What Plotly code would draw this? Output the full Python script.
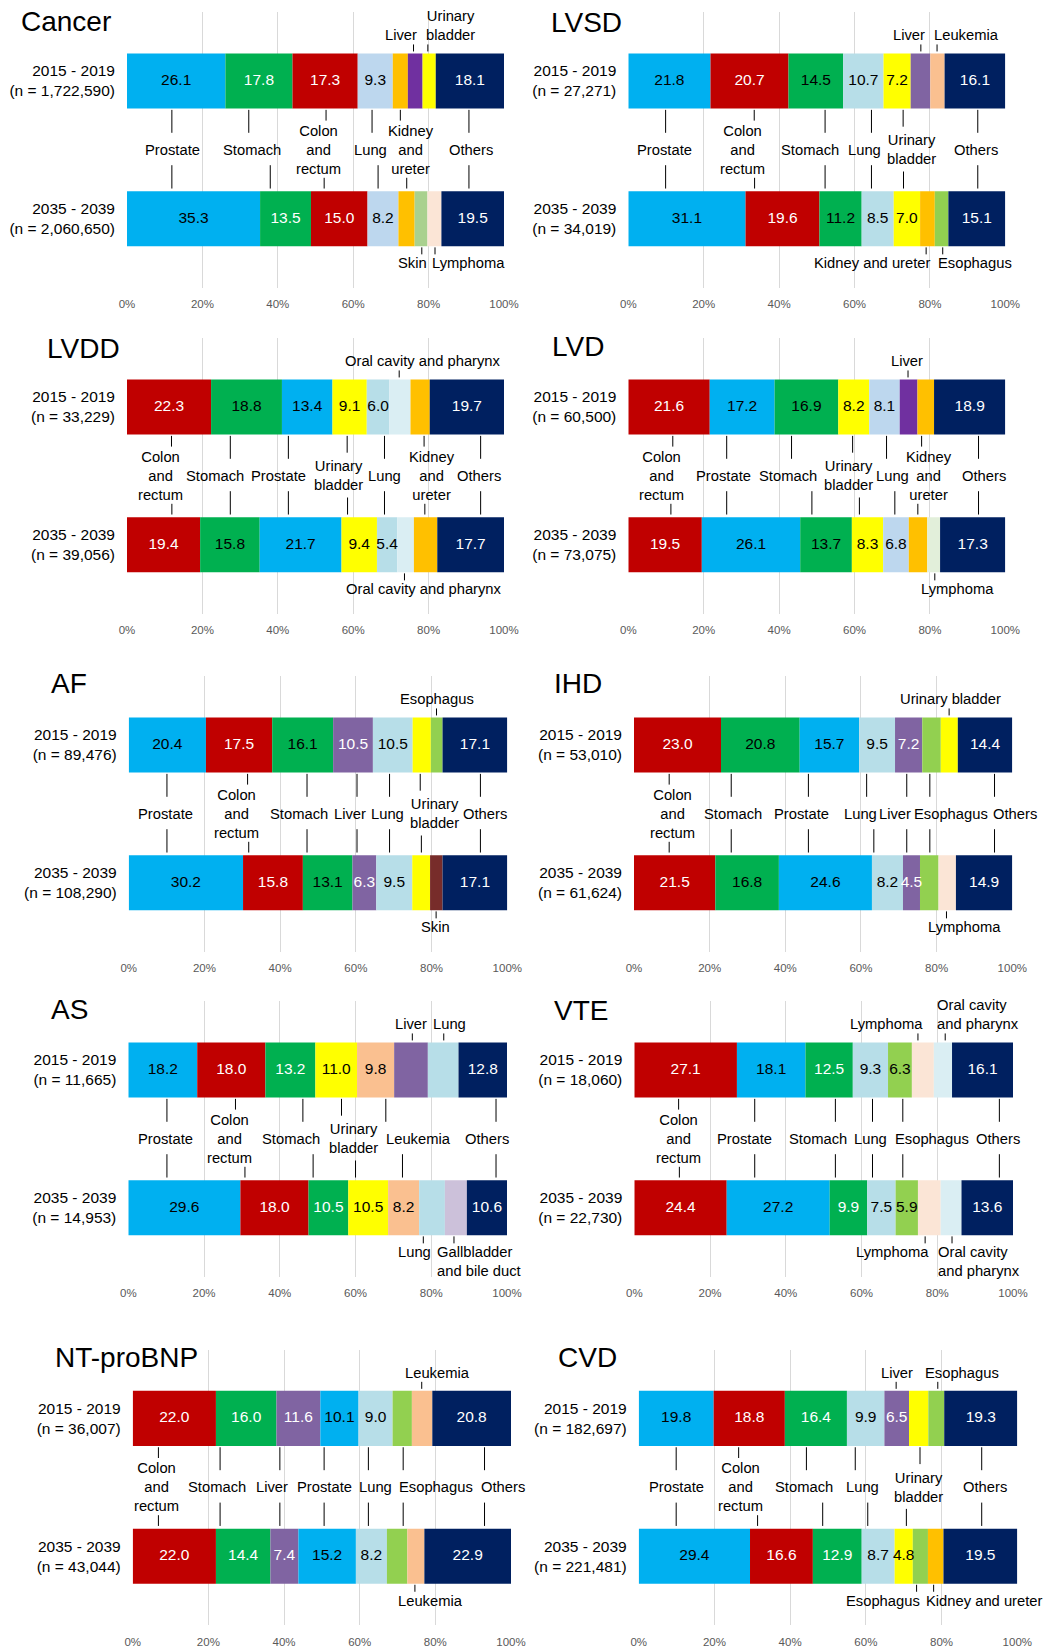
import plotly.graph_objects as go

W, H = 1047, 1648
FONT = "Liberation Sans, Arial, sans-serif"

PERIODS = ["2015 - 2019", "2035 - 2039"]
TICK_VALUES = [0, 20, 40, 60, 80, 100]
TICK_LABELS = ["0%", "20%", "40%", "60%", "80%", "100%"]

# ----------------------------- data -----------------------------
CANCER_N = ["1,722,590", "2,060,650"]
CANCER_CATS_2015 = ["Prostate", "Stomach", "Colon and rectum", "Lung", "Kidney and ureter", "Liver", "Urinary bladder", "Others"]
CANCER_VALS_2015 = [26.1, 17.8, 17.3, 9.3, 4.0, 3.9, 3.5, 18.1]
CANCER_CATS_2035 = ["Prostate", "Stomach", "Colon and rectum", "Lung", "Kidney and ureter", "Skin", "Lymphoma", "Others"]
CANCER_VALS_2035 = [35.3, 13.5, 15.0, 8.2, 4.3, 3.4, 3.7, 19.5]

LVSD_N = ["27,271", "34,019"]
LVSD_CATS_2015 = ["Prostate", "Colon and rectum", "Stomach", "Lung", "Urinary bladder", "Liver", "Leukemia", "Others"]
LVSD_VALS_2015 = [21.8, 20.7, 14.5, 10.7, 7.2, 5.2, 3.8, 16.1]
LVSD_CATS_2035 = ["Prostate", "Colon and rectum", "Stomach", "Lung", "Urinary bladder", "Kidney and ureter", "Esophagus", "Others"]
LVSD_VALS_2035 = [31.1, 19.6, 11.2, 8.5, 7.0, 3.9, 3.6, 15.1]

LVDD_N = ["33,229", "39,056"]
LVDD_CATS_2015 = ["Colon and rectum", "Stomach", "Prostate", "Urinary bladder", "Lung", "Oral cavity and pharynx", "Kidney and ureter", "Others"]
LVDD_VALS_2015 = [22.3, 18.8, 13.4, 9.1, 6.0, 5.6, 5.1, 19.7]
LVDD_CATS_2035 = ["Colon and rectum", "Stomach", "Prostate", "Urinary bladder", "Lung", "Oral cavity and pharynx", "Kidney and ureter", "Others"]
LVDD_VALS_2035 = [19.4, 15.8, 21.7, 9.4, 5.4, 4.4, 6.2, 17.7]

LVD_N = ["60,500", "73,075"]
LVD_CATS_2015 = ["Colon and rectum", "Prostate", "Stomach", "Urinary bladder", "Lung", "Liver", "Kidney and ureter", "Others"]
LVD_VALS_2015 = [21.6, 17.2, 16.9, 8.2, 8.1, 4.7, 4.4, 18.9]
LVD_CATS_2035 = ["Colon and rectum", "Prostate", "Stomach", "Urinary bladder", "Lung", "Kidney and ureter", "Lymphoma", "Others"]
LVD_VALS_2035 = [19.5, 26.1, 13.7, 8.3, 6.8, 4.9, 3.4, 17.3]

AF_N = ["89,476", "108,290"]
AF_CATS_2015 = ["Prostate", "Colon and rectum", "Stomach", "Liver", "Lung", "Urinary bladder", "Esophagus", "Others"]
AF_VALS_2015 = [20.4, 17.5, 16.1, 10.5, 10.5, 4.8, 3.1, 17.1]
AF_CATS_2035 = ["Prostate", "Colon and rectum", "Stomach", "Liver", "Lung", "Urinary bladder", "Skin", "Others"]
AF_VALS_2035 = [30.2, 15.8, 13.1, 6.3, 9.5, 4.7, 3.3, 17.1]

IHD_N = ["53,010", "61,624"]
IHD_CATS_2015 = ["Colon and rectum", "Stomach", "Prostate", "Lung", "Liver", "Esophagus", "Urinary bladder", "Others"]
IHD_VALS_2015 = [23.0, 20.8, 15.7, 9.5, 7.2, 4.9, 4.5, 14.4]
IHD_CATS_2035 = ["Colon and rectum", "Stomach", "Prostate", "Lung", "Liver", "Esophagus", "Lymphoma", "Others"]
IHD_VALS_2035 = [21.5, 16.8, 24.6, 8.2, 4.5, 4.9, 4.6, 14.9]

AS_N = ["11,665", "14,953"]
AS_CATS_2015 = ["Prostate", "Colon and rectum", "Stomach", "Urinary bladder", "Leukemia", "Liver", "Lung", "Others"]
AS_VALS_2015 = [18.2, 18.0, 13.2, 11.0, 9.8, 8.9, 8.1, 12.8]
AS_CATS_2035 = ["Prostate", "Colon and rectum", "Stomach", "Urinary bladder", "Leukemia", "Lung", "Gallbladder and bile duct", "Others"]
AS_VALS_2035 = [29.6, 18.0, 10.5, 10.5, 8.2, 6.8, 5.8, 10.6]

VTE_N = ["18,060", "22,730"]
VTE_CATS_2015 = ["Colon and rectum", "Prostate", "Stomach", "Lung", "Esophagus", "Lymphoma", "Oral cavity and pharynx", "Others"]
VTE_VALS_2015 = [27.1, 18.1, 12.5, 9.3, 6.3, 5.8, 4.8, 16.1]
VTE_CATS_2035 = ["Colon and rectum", "Prostate", "Stomach", "Lung", "Esophagus", "Lymphoma", "Oral cavity and pharynx", "Others"]
VTE_VALS_2035 = [24.4, 27.2, 9.9, 7.5, 5.9, 6.0, 5.5, 13.6]

NTPROBNP_N = ["36,007", "43,044"]
NTPROBNP_CATS_2015 = ["Colon and rectum", "Stomach", "Liver", "Prostate", "Lung", "Esophagus", "Leukemia", "Others"]
NTPROBNP_VALS_2015 = [22.0, 16.0, 11.6, 10.1, 9.0, 5.1, 5.4, 20.8]
NTPROBNP_CATS_2035 = ["Colon and rectum", "Stomach", "Liver", "Prostate", "Lung", "Esophagus", "Leukemia", "Others"]
NTPROBNP_VALS_2035 = [22.0, 14.4, 7.4, 15.2, 8.2, 5.4, 4.5, 22.9]

CVD_N = ["182,697", "221,481"]
CVD_CATS_2015 = ["Prostate", "Colon and rectum", "Stomach", "Lung", "Liver", "Urinary bladder", "Esophagus", "Others"]
CVD_VALS_2015 = [19.8, 18.8, 16.4, 9.9, 6.5, 5.1, 4.2, 19.3]
CVD_CATS_2035 = ["Prostate", "Colon and rectum", "Stomach", "Lung", "Urinary bladder", "Esophagus", "Kidney and ureter", "Others"]
CVD_VALS_2035 = [29.4, 16.6, 12.9, 8.7, 4.8, 4.0, 4.1, 19.5]

# ----------------------------- styles -----------------------------
COLORS = {
    "Prostate": "#00b0f0", "Stomach": "#00b050", "Colon and rectum": "#c00000",
    "Lung": "#b7dee8", "Kidney and ureter": "#ffc000", "Liver": "#8064a2",
    "Urinary bladder": "#ffff00", "Others": "#002060", "Skin": "#a9d18e",
    "Lymphoma": "#fbe5d6", "Esophagus": "#92d050", "Leukemia": "#fac090",
    "Oral cavity and pharynx": "#daeef3", "Gallbladder and bile duct": "#ccc1da",
}
WHITE_TEXT = {"Colon and rectum", "Others", "Liver", "Skin"}

# label layout: mid = (text, label x, top connector x, bottom connector x)
#               top/bot = (text, label x, connector x, align)
PANELS = [
    dict(title="Cancer", n=CANCER_N, data=[(CANCER_CATS_2015, CANCER_VALS_2015), (CANCER_CATS_2035, CANCER_VALS_2035)],
         nlab=4, stomach_text="white", override={"Lung": "#bdd7ee", "Liver": "#7030a0"},
         box=(127, 504, 0), title_pos=(19, 21.5),
         mid=[("Prostate", 12.1, 11.9, 11.9), ("Stomach", 33.1, 32.3, 38.0), ("Colon<br>and<br>rectum", 50.8, 52.8, 52.3),
              ("Lung", 64.5, 65.0, 66.6), ("Kidney<br>and<br>ureter", 75.2, 72.5, 74.2), ("Others", 91.3, 90.7, 90.7)],
         top=[("Liver", 72.7, 76.0, "center"), ("Urinary<br>bladder", 85.7, 79.8, "center")],
         bot=[("Skin", 75.6, 78.2, "center"), ("Lymphoma", 90.5, 81.7, "center")]),
    dict(title="LVSD", n=LVSD_N, data=[(LVSD_CATS_2015, LVSD_VALS_2015), (LVSD_CATS_2035, LVSD_VALS_2035)],
         nlab=5, stomach_text="black", override={},
         box=(628.3, 1005.3, 0), title_pos=(549, 22.2),
         mid=[("Prostate", 9.5, 9.9, 9.9), ("Colon<br>and<br>rectum", 30.2, 33.4, 33.5), ("Stomach", 48.2, 52.2, 52.2),
              ("Lung", 62.7, 64.5, 64.5), ("Urinary<br>bladder", 75.2, 72.9, 73.0), ("Others", 92.3, 92.7, 92.7)],
         top=[("Liver", 74.4, 77.6, "center"), ("Leukemia", 89.7, 81.9, "center")],
         bot=[("Kidney and ureter", 64.7, 79.0, "center"), ("Esophagus", 92.0, 83.4, "center")]),
    dict(title="LVDD", n=LVDD_N, data=[(LVDD_CATS_2015, LVDD_VALS_2015), (LVDD_CATS_2035, LVDD_VALS_2035)],
         nlab=5, stomach_text="black", override={},
         box=(127, 504, 1), title_pos=(45, 348.2),
         mid=[("Colon<br>and<br>rectum", 8.9, 11.8, 11.9), ("Stomach", 23.3, 27.4, 27.4), ("Prostate", 40.1, 42.8, 42.8),
              ("Urinary<br>bladder", 56.1, 58.4, 58.5), ("Lung", 68.2, 68.3, 68.3), ("Kidney<br>and<br>ureter", 80.9, 78.8, 79.0),
              ("Others", 93.5, 93.8, 93.8)],
         top=[("Oral cavity and pharynx", 78.6, 72.2, "center")],
         bot=[("Oral cavity and pharynx", 78.9, 73.6, "center")]),
    dict(title="LVD", n=LVD_N, data=[(LVD_CATS_2015, LVD_VALS_2015), (LVD_CATS_2035, LVD_VALS_2035)],
         nlab=5, stomach_text="black", override={"Lung": "#bdd7ee", "Liver": "#7030a0", "Lymphoma": "#e2efda"},
         box=(628.3, 1005.3, 1), title_pos=(549.7, 346.8),
         mid=[("Colon<br>and<br>rectum", 8.7, 11.8, 11.3), ("Prostate", 25.3, 26.1, 26.1), ("Stomach", 42.4, 43.3, 48.7),
              ("Urinary<br>bladder", 58.4, 59.5, 61.3), ("Lung", 70.2, 68.5, 70.7), ("Kidney<br>and<br>ureter", 79.8, 77.8, 76.8),
              ("Others", 94.3, 92.9, 92.9)],
         top=[("Liver", 74.0, 74.2, "center")],
         bot=[("Lymphoma", 87.2, 81.3, "center")]),
    dict(title="AF", n=AF_N, data=[(AF_CATS_2015, AF_VALS_2015), (AF_CATS_2035, AF_VALS_2035)],
         nlab=5, stomach_text="black", override={"Skin": "#772c2a"},
         box=(128.7, 507.3, 2), title_pos=(48.7, 683.7),
         mid=[("Prostate", 9.6, 10.1, 10.1), ("Colon<br>and<br>rectum", 28.5, 31.4, 31.7), ("Stomach", 45.1, 47.1, 47.1),
              ("Liver", 58.5, 60.3, 60.3), ("Lung", 68.4, 68.9, 68.9), ("Urinary<br>bladder", 80.7, 77.0, 77.3),
              ("Others", 94.1, 92.9, 92.9)],
         top=[("Esophagus", 81.3, 81.3, "center")],
         bot=[("Skin", 81.0, 81.2, "center")]),
    dict(title="IHD", n=IHD_N, data=[(IHD_CATS_2015, IHD_VALS_2015), (IHD_CATS_2035, IHD_VALS_2035)],
         nlab=5, stomach_text="black", override={},
         box=(634, 1012.3, 2), title_pos=(552.3, 683.7),
         mid=[("Colon<br>and<br>rectum", 10.3, 9.3, 9.3), ("Stomach", 26.2, 25.7, 25.7), ("Prostate", 44.2, 46.1, 46.1),
              ("Lung", 59.8, 61.5, 63.4), ("Liver", 69.1, 72.1, 72.1), ("Esophagus", 83.8, 78.2, 78.2),
              ("Others", 100.8, 95.3, 95.3)],
         top=[("Urinary bladder", 83.6, 83.3, "center")],
         bot=[("Lymphoma", 87.4, 82.6, "center")]),
    dict(title="AS", n=AS_N, data=[(AS_CATS_2015, AS_VALS_2015), (AS_CATS_2035, AS_VALS_2035)],
         nlab=5, stomach_text="white", override={},
         box=(128.3, 507, 3), title_pos=(48.7, 1009.5),
         mid=[("Prostate", 9.7, 10.2, 10.2), ("Colon<br>and<br>rectum", 26.8, 28.3, 30.8), ("Stomach", 42.9, 46.1, 48.8),
              ("Urinary<br>bladder", 59.4, 56.3, 60.0), ("Leukemia", 76.7, 68.0, 72.4), ("Others", 94.7, 97.1, 97.1)],
         top=[("Liver", 74.6, 75.0, "center"), ("Lung", 84.8, 83.3, "center")],
         bot=[("Lung", 75.6, 77.9, "center"), ("Gallbladder<br>and bile duct", 92.5, 86.0, "left")]),
    dict(title="VTE", n=VTE_N, data=[(VTE_CATS_2015, VTE_VALS_2015), (VTE_CATS_2035, VTE_VALS_2035)],
         nlab=5, stomach_text="white", override={},
         box=(634.3, 1013, 3), title_pos=(552.3, 1010),
         mid=[("Colon<br>and<br>rectum", 11.7, 11.7, 11.9), ("Prostate", 29.0, 31.8, 31.8), ("Stomach", 48.4, 53.1, 53.1),
              ("Lung", 62.4, 62.9, 62.9), ("Esophagus", 78.5, 70.9, 70.9), ("Others", 96.0, 96.4, 96.4)],
         top=[("Lymphoma", 66.5, 74.9, "center"), ("Oral cavity<br>and pharynx", 90.8, 82.1, "left")],
         bot=[("Lymphoma", 68.2, 76.8, "center"), ("Oral cavity<br>and pharynx", 91.1, 83.9, "left")]),
    dict(title="NT-proBNP", n=NTPROBNP_N, data=[(NTPROBNP_CATS_2015, NTPROBNP_VALS_2015), (NTPROBNP_CATS_2035, NTPROBNP_VALS_2035)],
         nlab=5, stomach_text="white", override={},
         box=(132.7, 511, 4), title_pos=(53, 1357.7),
         mid=[("Colon<br>and<br>rectum", 6.3, 6.8, 6.8), ("Stomach", 22.2, 23.1, 23.1), ("Liver", 36.7, 38.9, 38.9),
              ("Prostate", 50.7, 50.6, 50.6), ("Lung", 64.1, 62.3, 62.3), ("Esophagus", 80.1, 71.5, 71.5),
              ("Others", 98.0, 93.0, 93.0)],
         top=[("Leukemia", 80.5, 76.4, "center")],
         bot=[("Leukemia", 78.6, 74.6, "center")]),
    dict(title="CVD", n=CVD_N, data=[(CVD_CATS_2015, CVD_VALS_2015), (CVD_CATS_2035, CVD_VALS_2035)],
         nlab=5, stomach_text="white", override={},
         box=(638.7, 1017.3, 4), title_pos=(556, 1357.7),
         mid=[("Prostate", 10.1, 9.9, 9.9), ("Colon<br>and<br>rectum", 26.8, 26.4, 31.4), ("Stomach", 43.6, 44.3, 48.6),
              ("Lung", 59.2, 57.2, 60.5), ("Urinary<br>bladder", 73.8, 74.3, 70.7), ("Others", 91.4, 90.6, 90.6)],
         top=[("Liver", 68.2, 68.0, "center"), ("Esophagus", 85.3, 79.0, "center")],
         bot=[("Esophagus", 64.6, 73.4, "center"), ("Kidney and ureter", 91.3, 77.9, "center")]),
]

# ----------------------------- geometry -----------------------------
ROW_TOPS = [12.1, 338.1, 676.1, 1001.1, 1349.5]   # px, top of each plot area
PX = 137.8                                          # px per y-unit
PLOT_H = 2 * PX
BAR_W = 0.4
LABEL_FS = 14.75
LH = 1.3 * LABEL_FS

fig = go.Figure()
annotations = []
shapes = []
layout_axes = {}

for i, p in enumerate(PANELS):
    k = "" if i == 0 else str(i + 1)
    xa, ya = "x" + k, "y" + k
    x0, x1, row = p["box"]
    top = ROW_TOPS[row]
    px_per_pct = (x1 - x0) / 100.0
    colors = dict(COLORS, **p["override"])

    def text_color(c):
        if c == "Stomach":
            return p["stomach_text"]
        return "white" if c in WHITE_TEXT else "black"

    for (cats, vals), yv in zip(p["data"], [1, 0]):
        bases, acc = [], 0.0
        for v in vals:
            bases.append(acc)
            acc += v
        fig.add_trace(go.Bar(
            orientation="h", y=[yv] * len(vals), x=vals, base=bases, width=BAR_W,
            marker=dict(color=[colors[c] for c in cats], line=dict(width=0)),
            xaxis=xa, yaxis=ya, hoverinfo="skip", showlegend=False))
        idx = list(range(p["nlab"])) + [len(vals) - 1]
        cx = [(bases[j] + min(bases[j] + vals[j], 100)) / 2 for j in idx]
        fig.add_trace(go.Scatter(
            x=cx, y=[yv] * len(idx), mode="text",
            text=[f"{vals[j]:.1f}" for j in idx],
            textfont=dict(family=FONT, size=15.5, color=[text_color(cats[j]) for j in idx]),
            xaxis=xa, yaxis=ya, hoverinfo="skip", showlegend=False, cliponaxis=False))

    layout_axes["xaxis" + k] = dict(
        domain=[x0 / W, x1 / W], range=[0, 100], tickvals=TICK_VALUES, ticktext=TICK_LABELS,
        showgrid=True, gridcolor="#d9d9d9", gridwidth=1, zeroline=False, showline=False,
        ticks="", ticklabelstandoff=8, tickfont=dict(family=FONT, size=11.5, color="#595959"),
        anchor=ya, fixedrange=True, automargin=False)
    layout_axes["yaxis" + k] = dict(
        domain=[1 - (top + PLOT_H) / H, 1 - top / H], range=[-0.5, 1.5],
        tickvals=[1, 0], ticktext=[f"{per}<br>(n = {n})" for per, n in zip(PERIODS, p["n"])],
        showgrid=False, zeroline=False, showline=False, ticks="", ticklabelstandoff=11,
        tickfont=dict(family=FONT, size=15.5, color="black"), anchor=xa, fixedrange=True, automargin=False)

    # title
    tx, ty = p["title_pos"]
    annotations.append(dict(text=p["title"], x=tx / W, y=1 - ty / H, xref="paper", yref="paper",
                            xanchor="left", yanchor="middle", showarrow=False,
                            font=dict(family=FONT, size=28, color="black")))

    def label(text, lx, y, al):
        # annotations outside the axis range are hidden, so clamp and shift in pixels
        xc = min(max(lx, 0.0), 100.0)
        annotations.append(dict(text=text, x=xc, xshift=(lx - xc) * px_per_pct, y=y, xref=xa, yref=ya,
                                xanchor="center", yanchor="middle", showarrow=False, align=al,
                                font=dict(family=FONT, size=LABEL_FS, color="black")))

    def line(x, ya0, ya1):
        shapes.append(dict(type="line", xref=xa, yref=ya, x0=x, x1=x, y0=ya0, y1=ya1,
                           line=dict(color="black", width=1)))

    for text, lx, ct, cb in p["mid"]:
        nl = text.count("<br>") + 1
        label(text, lx, 0.5, "center")
        line(ct, 1 - BAR_W / 2 - 1.3 / PX, 0.5 + (11 + 6.1 * nl) / PX)
        line(cb, 0.5 - (9 + 6.3 * nl) / PX, BAR_W / 2 + 2.7 / PX)

    for text, lx, c, al in p["top"]:
        nl = text.count("<br>") + 1
        label(text, lx, 1 + BAR_W / 2 + (18 + (nl - 1) * LH / 2) / PX, al)
        line(c, 1 + BAR_W / 2 + 2 / PX, 1 + BAR_W / 2 + 9 / PX)

    for text, lx, c, al in p["bot"]:
        nl = text.count("<br>") + 1
        label(text, lx, -BAR_W / 2 - (17 + (nl - 1) * LH / 2) / PX, al)
        line(c, -BAR_W / 2 - 1 / PX, -BAR_W / 2 - 8 / PX)

fig.update_layout(
    width=W, height=H, autosize=False, margin=dict(l=0, r=0, t=0, b=0, pad=0),
    paper_bgcolor="white", plot_bgcolor="white", barmode="overlay",
    showlegend=False, font=dict(family=FONT, color="black"),
    annotations=annotations, shapes=shapes, **layout_axes)

fig.write_html(
    "out.html",
    config={"responsive": False, "displayModeBar": False},
    post_script="document.body.style.margin='0px';document.body.style.overflow='hidden';",
)
